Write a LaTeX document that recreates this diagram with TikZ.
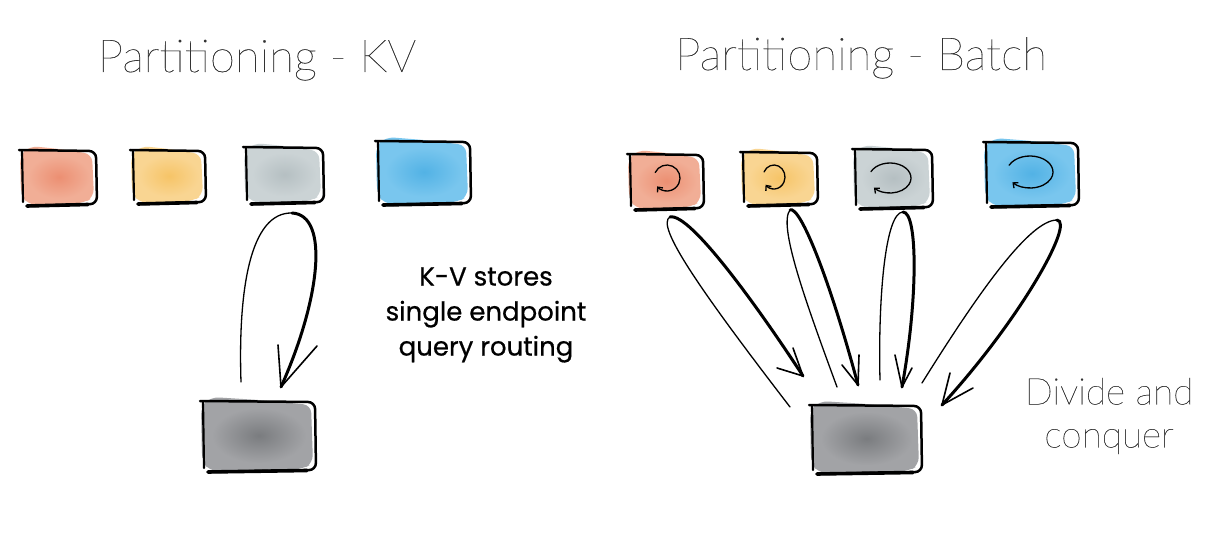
\documentclass[tikz,border=0pt]{standalone}
\usepackage{fontspec}
\usetikzlibrary{calc,arrows.meta}
\newfontfamily\thinfont{Lato Thin}[FakeBold=0.35]
\newfontfamily\handfont{Poppins}[FakeBold=0.6]
\definecolor{orL}{HTML}{F1AE96}
\definecolor{orD}{HTML}{EC8F72}
\definecolor{yeL}{HTML}{F9D592}
\definecolor{yeD}{HTML}{F6C467}
\definecolor{grL}{HTML}{CBD3D5}
\definecolor{grD}{HTML}{B5BFC2}
\definecolor{blL}{HTML}{79C6EE}
\definecolor{blD}{HTML}{52B2E5}
\definecolor{dkL}{HTML}{A2A3A6}
\definecolor{dkD}{HTML}{7A7C7F}
\definecolor{titlegray}{HTML}{333333}
\tikzset{
  boxnode/.style={draw=none, inner sep=0pt, rectangle},
  skline/.style={line width=2.5pt, line cap=round, line join=round, rounded corners=7pt},
  skleft/.style={line width=2.2pt, line cap=round},
  skbase/.style={line width=3.6pt, line cap=round},
  thinarm/.style={line width=1.3pt, line cap=round},
  thickarm/.style={line width=3pt, line cap=round},
  barb/.style={line width=1.6pt, line cap=round, line join=round},
  rot/.style={line width=1.3pt, line cap=round, -{Straight Barb[length=4pt,width=7pt]}},
  title/.style={font=\thinfont\fontsize{45.5}{54}\selectfont, text=titlegray, inner sep=0pt},
  note/.style={font=\thinfont\fontsize{37}{43}\selectfont, text=titlegray, align=center, inner sep=0pt},
  hand/.style={font=\handfont\fontsize{26}{35}\selectfont, align=center, inner sep=0pt}
}
% #1 name, #2 x1, #3 y1, #4 x2, #5 y2, #6 light colour, #7 dark colour
\newcommand{\skbox}[7]{%
  \node[boxnode, minimum width={#4pt-#2pt}, minimum height={#5pt-#3pt}] (#1) at ({(#2+#4)/2},{(#3+#5)/2}) {};
  \fill[#6, rounded corners=8pt] ({#2-2},{#3+5}) -- ({#2+8},{#3-4}) -- ({(#2+#4)/2},{#3-1}) -- ({#4-4},{#3+4})
     -- ({#4-2},{#5-7}) -- ({#4-12},{#5-1}) -- ({#2+6},{#5+1}) -- ({#2-1},{#5-10}) -- cycle;
  \shade[inner color=#7, outer color=#6] ({(#2+#4)/2},{(#3+#5)/2}) ellipse[x radius={0.42*(#4-#2)}, y radius={0.40*(#5-#3)}];
  \draw[skline] ({#2-3},#3) -- (#4,{#3+1}) -- ({#4+1},#5) -- ({#2+5},{#5+2});
  \draw[skleft] (#2,{#3+1}) -- ({#2+1},{#5-2});
  \draw[skbase] ({#2+5},{#5+2}) -- ({#4-8},{#5+0.5});
}
\begin{document}
\begin{tikzpicture}[x=1pt,y=-1pt]
\useasboundingbox (0,0) rectangle (1224,540);
\fill[white] (0,0) rectangle (1224,540);

% titles
\node[title, anchor=base] (t1) at (257,72) {Partitioning - KV};
\node[title, anchor=base] (t2) at (861,70) {Partitioning - Batch};

% left row
\skbox{a1}{22}{150}{96}{204}{orL}{orD}
\skbox{a2}{133}{150}{205}{202}{yeL}{yeD}
\skbox{a3}{246}{147}{323}{202}{grL}{grD}
\skbox{a4}{378}{141}{470}{203}{blL}{blD}
\skbox{kvdb}{203}{401}{315}{470}{dkL}{dkD}

% right row
\skbox{b1}{630}{154}{703}{208}{orL}{orD}
\skbox{b2}{743}{152}{817}{204}{yeL}{yeD}
\skbox{b3}{855}{149}{932}{207}{grL}{grD}
\skbox{b4}{986}{142}{1078}{205}{blL}{blD}
\skbox{bdb}{812}{405}{921}{472}{dkL}{dkD}

% rotation marks
\coordinate (r1) at (667,178);
\coordinate (r2) at (774,177);
\coordinate (r3) at (890,178);
\coordinate (r4) at (1030,172);
\draw[rot] ($(r1)+(205:13 and 13)$) arc[start angle=205, end angle=500, x radius=13, y radius=13];
\draw[rot] ($(r2)+(205:11 and 12)$) arc[start angle=205, end angle=500, x radius=11, y radius=12];
\draw[rot] ($(r3)+(205:21 and 15)$) arc[start angle=205, end angle=500, x radius=21, y radius=15];
\draw[rot] ($(r4)+(205:23 and 16)$) arc[start angle=205, end angle=500, x radius=23, y radius=16];

% left arrow
\coordinate (kvtail) at (241,382);
\coordinate (kvtop) at (292,213);
\coordinate (kvtip) at (281,387);
\coordinate (kvb1) at (278,345);
\coordinate (kvb2) at (317,346);
\draw[thinarm] (kvtail) .. controls (238,290) and (250,212) .. (kvtop);
\draw[thickarm] (kvtop) .. controls (330,215) and (320,300) .. (kvtip);
\draw[barb] (kvb1) -- (kvtip) -- (kvb2);

% right arrows
\coordinate (p1tail) at (790,407);
\coordinate (p1top) at (670,217);
\coordinate (p1tip) at (803,376);
\coordinate (p1ba) at (777,368);
\coordinate (p1bb) at (793,348);
\draw[thinarm] (p1tail) .. controls (700,290) and (655,225) .. (p1top);
\draw[thickarm] (p1top) .. controls (690,212) and (760,310) .. (p1tip);
\draw[barb] (p1ba) -- (p1tip) -- (p1bb);

\coordinate (p2tail) at (837,387);
\coordinate (p2top) at (790,210);
\coordinate (p2tip) at (858,385);
\coordinate (p2ba) at (842,365);
\coordinate (p2bb) at (859,355);
\draw[thinarm] (p2tail) .. controls (805,300) and (778,225) .. (p2top);
\draw[thickarm] (p2top) .. controls (800,205) and (830,280) .. (p2tip);
\draw[barb] (p2ba) -- (p2tip) -- (p2bb);

\coordinate (p3tail) at (880,380);
\coordinate (p3top) at (903,212);
\coordinate (p3tip) at (902,387);
\coordinate (p3ba) at (895,355);
\coordinate (p3bb) at (912,368);
\draw[thinarm] (p3tail) .. controls (878,300) and (885,212) .. (p3top);
\draw[thickarm] (p3top) .. controls (918,212) and (918,300) .. (p3tip);
\draw[barb] (p3ba) -- (p3tip) -- (p3bb);

\coordinate (p4tail) at (922,383);
\coordinate (p4top) at (1057,220);
\coordinate (p4tip) at (942,405);
\coordinate (p4ba) at (950,373);
\coordinate (p4bb) at (973,388);
\draw[thinarm] (p4tail) .. controls (980,290) and (1030,220) .. (p4top);
\draw[thickarm] (p4top) .. controls (1075,222) and (1020,320) .. (p4tip);
\draw[barb] (p4ba) -- (p4tip) -- (p4bb);

% texts
\node[hand] (kvtext) at (486,315) {K-V stores\\single endpoint\\query routing};
\node[note] (dc) at (1109,416) {Divide and\\conquer};
\end{tikzpicture}
\end{document}
